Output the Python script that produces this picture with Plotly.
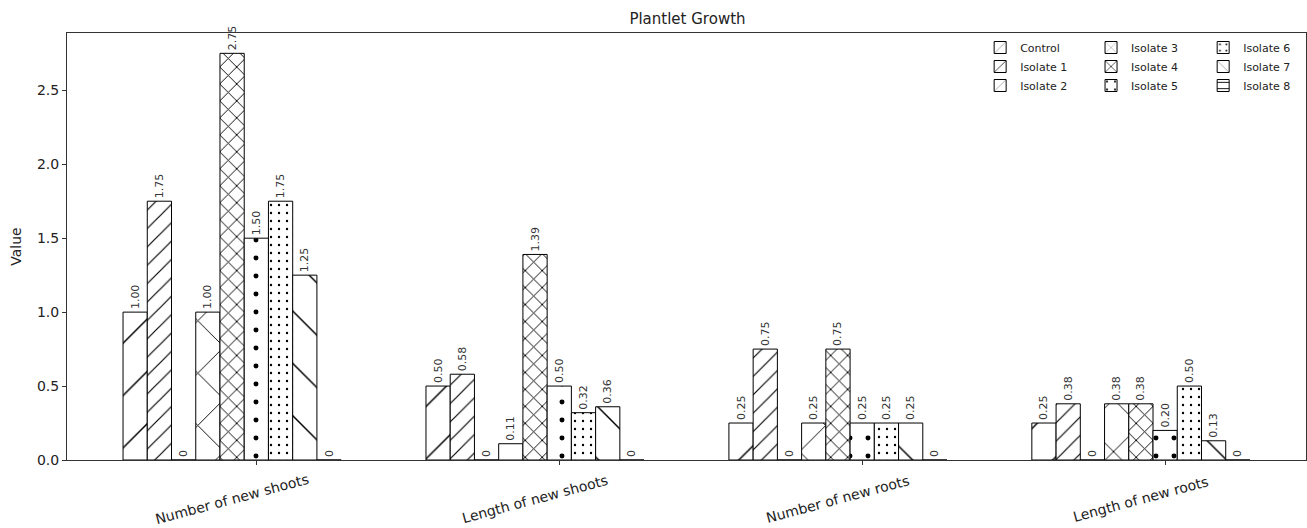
import plotly.graph_objects as go

# Measurement categories (x groups)
categories = ["Number of new shoots", "Length of new shoots",
              "Number of new roots", "Length of new roots"]

# Mean values per treatment
control = [1.00, 0.50, 0.25, 0.25]
isolate_1 = [1.75, 0.58, 0.75, 0.38]
isolate_2 = [0.0, 0.0, 0.0, 0.0]
isolate_3 = [1.00, 0.11, 0.25, 0.38]
isolate_4 = [2.75, 1.39, 0.75, 0.38]
isolate_5 = [1.50, 0.50, 0.25, 0.20]
isolate_6 = [1.75, 0.32, 0.25, 0.50]
isolate_7 = [1.25, 0.36, 0.25, 0.13]
isolate_8 = [0.0, 0.0, 0.0, 0.0]

series_names = ["Control", "Isolate 1", "Isolate 2", "Isolate 3", "Isolate 4",
                "Isolate 5", "Isolate 6", "Isolate 7", "Isolate 8"]
series_values = [control, isolate_1, isolate_2, isolate_3, isolate_4,
                 isolate_5, isolate_6, isolate_7, isolate_8]

y_ticks = [0.0, 0.5, 1.0, 1.5, 2.0, 2.5]

# Hatch styles: (shape, tile size, solidity)
hatches = [
    ("/", 37, 0.04),
    ("/", 13, 0.09),
    ("/", 37, 0.04),
    ("x", 37, 0.05),
    ("x", 12, 0.15),
    (".", 18, 0.06),
    (".", 8, 0.07),
    ("\\", 37, 0.04),
    ("-", 8, 0.15),
]

# Three legend columns, three entries each
legend_of = ["legend", "legend", "legend",
             "legend2", "legend2", "legend2",
             "legend3", "legend3", "legend3"]

FONT = "DejaVu Sans"
TEXT = "#222222"
x_pos = list(range(len(categories)))
bar_width = 0.08
# tick marks sit one bar to the right of each group centre
tick_pos = [x + bar_width for x in x_pos]

fig = go.Figure()
for name, vals, (shape, size, sol), lg in zip(series_names, series_values, hatches, legend_of):
    labels = ["0" if v == 0 else f"{v:.2f}" for v in vals]
    fig.add_trace(go.Bar(
        x=x_pos, y=vals, name=name,
        text=labels, textposition="outside", textangle=-90,
        textfont=dict(family=FONT, size=11, color="#333333"),
        constraintext="none", cliponaxis=False,
        marker=dict(
            color="white",
            line=dict(color="black", width=1),
            pattern=dict(shape=shape, size=size, solidity=sol,
                         fgcolor="black", fgopacity=1, bgcolor="white"),
        ),
        legend=lg,
    ))

# Rotated category labels under each group
for xi, cat in zip(x_pos, categories):
    fig.add_annotation(
        x=xi, y=0, xref="x", yref="paper", text=cat, showarrow=False,
        textangle=-15, xanchor="center", yanchor="middle",
        xshift=0, yshift=-39,
        font=dict(family=FONT, size=14, color=TEXT),
    )

legend_style = dict(bgcolor="rgba(0,0,0,0)", borderwidth=0,
                    font=dict(family=FONT, size=11, color=TEXT),
                    yanchor="top", xanchor="left", itemwidth=30)

fig.update_layout(
    width=1307, height=528,
    margin=dict(l=67, r=1, t=33, b=68),
    paper_bgcolor="white", plot_bgcolor="white",
    barmode="group", bargap=0.28, bargroupgap=0,
    title=dict(text="Plantlet Growth", x=0.526, xanchor="center",
               y=0.965, yanchor="middle",
               font=dict(family=FONT, size=15, color=TEXT)),
    xaxis=dict(range=[-0.545, 3.545], tickvals=tick_pos, showticklabels=False,
               ticks="outside", ticklen=4, tickcolor="#333333",
               showline=True, linecolor="#333333", linewidth=1, mirror=True,
               showgrid=False, zeroline=False),
    yaxis=dict(range=[0, 2.8875], tickvals=y_ticks,
               ticktext=[f"{t:.1f}" for t in y_ticks],
               ticks="outside", ticklen=4, tickcolor="#333333",
               tickfont=dict(family=FONT, size=14, color=TEXT),
               title=dict(text="Value", standoff=12,
                          font=dict(family=FONT, size=14, color=TEXT)),
               showline=True, linecolor="#333333", linewidth=1, mirror=True,
               showgrid=False, zeroline=False),
    legend=dict(x=0.737, y=1.0, **legend_style),
    legend2=dict(x=0.8265, y=1.0, **legend_style),
    legend3=dict(x=0.917, y=1.0, **legend_style),
    showlegend=True,
)

fig.write_html("out.html")
